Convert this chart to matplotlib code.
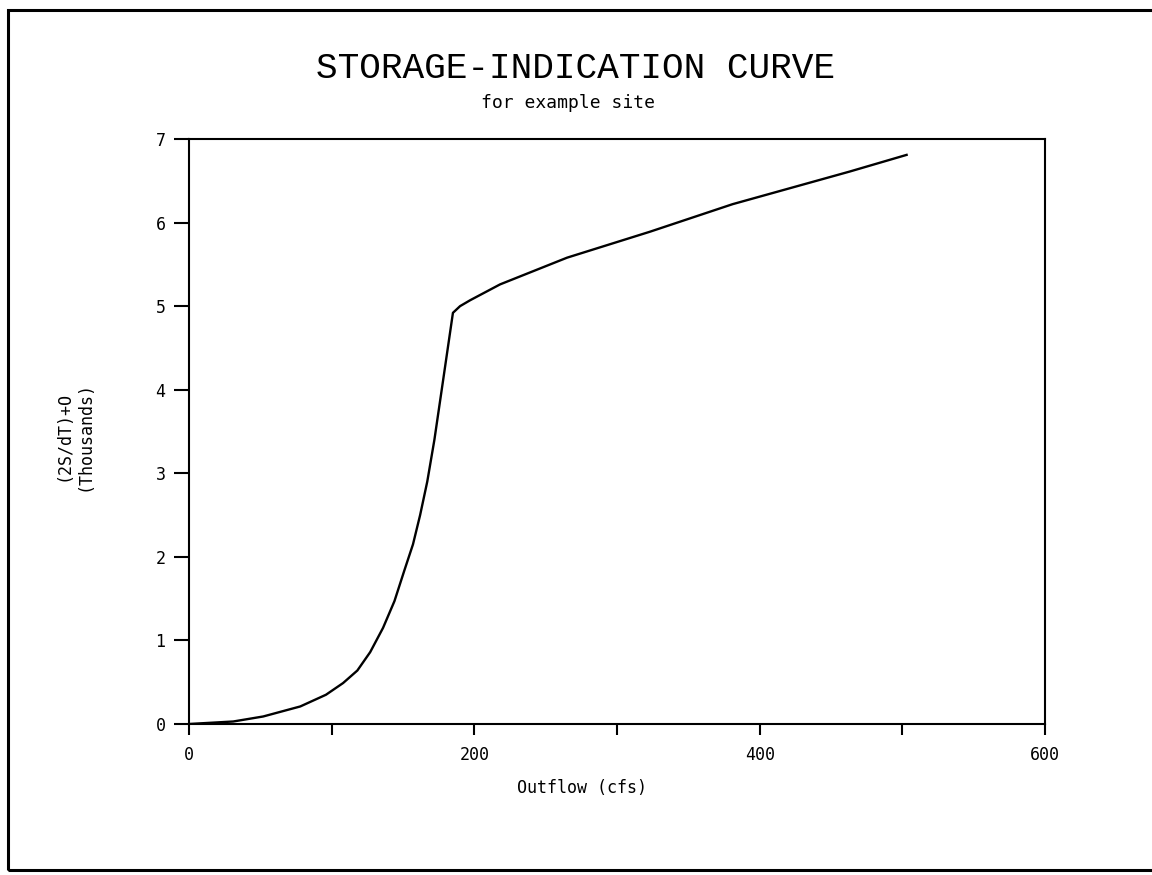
import matplotlib
matplotlib.use('Agg')
import matplotlib.pyplot as plt
from matplotlib.patches import Rectangle

# valores
outflow = [0, 31, 52, 78, 96, 108, 118, 127, 136, 144, 151, 157, 162, 167,
           172, 178, 185, 190, 197, 218, 265, 323, 381, 463, 503]
storage = [0, 0.03, 0.09, 0.21, 0.35, 0.49, 0.64, 0.86, 1.15, 1.47, 1.84, 2.15,
           2.5, 2.9, 3.4, 4.1, 4.92, 5.0, 5.07, 5.26, 5.58, 5.89, 6.22, 6.61, 6.81]
x_ticks = [0, 200, 400, 600]
x_minor = [100, 300, 500]
y_ticks = [0, 1, 2, 3, 4, 5, 6, 7]

FONTE = 'DejaVu Sans Mono'
plt.rcParams['font.family'] = FONTE

fig = plt.figure(figsize=(11.52, 8.75), dpi=100)
ax = fig.add_axes([189/1152, 1-724/875, (1045-189)/1152, (724-139)/875])

ax.plot(outflow, storage, color='black', linewidth=1.7)

ax.set_xlim(0, 600)
ax.set_ylim(0, 7)
ax.set_xticks(x_ticks)
ax.set_xticks(x_minor, minor=True)
ax.set_yticks(y_ticks)
ax.tick_params(axis='x', which='both', direction='out', length=8, width=1.5, labelsize=12, pad=8)
ax.tick_params(axis='y', direction='out', length=11, width=1.5, labelsize=12, pad=6)
for s in ax.spines.values():
  s.set_linewidth(1.5)

ax.set_xlabel('Outflow (cfs)', fontsize=12)
ax.xaxis.set_label_coords((582-189)/856, -(788-724)/585)
ax.xaxis.label.set_va('center')

fig.text(74/1152, 1-436/875, '(2S/dT)+O\n(Thousands)', rotation=90,
         ha='center', va='center', fontsize=12, multialignment='center', linespacing=1.2)

fig.text(0.5, 1-68/875, 'STORAGE-INDICATION CURVE', ha='center', va='center',
         fontsize=26, family='Liberation Mono')
fig.text(568/1152, 1-103/875, 'for example site', ha='center', va='center', fontsize=13)

# moldura externa
fig.patches.append(Rectangle((8/1152, 1-870/875), 1.1, (870-10)/875, transform=fig.transFigure,
                             fill=False, edgecolor='black', linewidth=2.2))

fig.savefig('out.png', dpi=100)
